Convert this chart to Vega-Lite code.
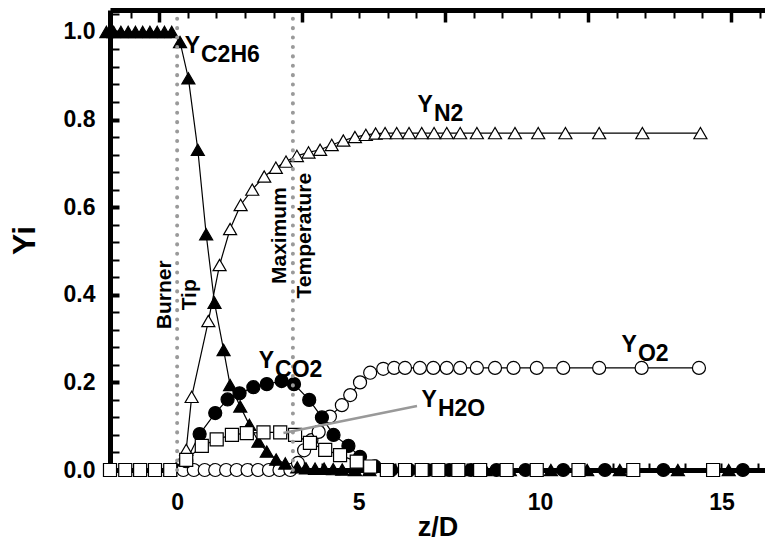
{
  "$schema": "https://vega.github.io/schema/vega-lite/v6.json",
  "autosize": "none",
  "width": 655,
  "height": 460,
  "padding": {"left": 110, "top": 10, "right": 0, "bottom": 71},
  "background": "white",
  "config": {"view": {"stroke": null}, "font": "Liberation Sans"},
  "datasets": {
    "series": [
      {"s": "O2", "x": 0.17, "y": 0}, {"s": "O2", "x": 0.46, "y": 0}, {"s": "O2", "x": 0.76, "y": 0}, {"s": "O2", "x": 1.05, "y": 0}, {"s": "O2", "x": 1.35, "y": 0}, {"s": "O2", "x": 1.64, "y": 0}, {"s": "O2", "x": 1.94, "y": 0}, {"s": "O2", "x": 2.23, "y": 0}, {"s": "O2", "x": 2.53, "y": 0}, {"s": "O2", "x": 2.82, "y": 0}, {"s": "O2", "x": 3.12, "y": 0},
      {"s": "O2", "x": 3.33, "y": 0.016}, {"s": "O2", "x": 3.5, "y": 0.045}, {"s": "O2", "x": 3.7, "y": 0.068}, {"s": "O2", "x": 3.9, "y": 0.087}, {"s": "O2", "x": 4.21, "y": 0.122}, {"s": "O2", "x": 4.54, "y": 0.148}, {"s": "O2", "x": 4.77, "y": 0.171}, {"s": "O2", "x": 5.04, "y": 0.2}, {"s": "O2", "x": 5.32, "y": 0.222}, {"s": "O2", "x": 5.68, "y": 0.231}, {"s": "O2", "x": 5.98, "y": 0.233}, {"s": "O2", "x": 6.28, "y": 0.233}, {"s": "O2", "x": 6.69, "y": 0.233}, {"s": "O2", "x": 7.06, "y": 0.233}, {"s": "O2", "x": 7.43, "y": 0.233}, {"s": "O2", "x": 7.8, "y": 0.233}, {"s": "O2", "x": 8.26, "y": 0.233}, {"s": "O2", "x": 8.76, "y": 0.233}, {"s": "O2", "x": 9.27, "y": 0.233}, {"s": "O2", "x": 9.91, "y": 0.233}, {"s": "O2", "x": 10.64, "y": 0.233}, {"s": "O2", "x": 11.63, "y": 0.233}, {"s": "O2", "x": 12.8, "y": 0.233}, {"s": "O2", "x": 14.38, "y": 0.233},
      {"s": "N2", "x": -0.19, "y": 0}, {"s": "N2", "x": 0.25, "y": 0.046}, {"s": "N2", "x": 0.4, "y": 0.167}, {"s": "N2", "x": 0.86, "y": 0.34}, {"s": "N2", "x": 1.17, "y": 0.468}, {"s": "N2", "x": 1.46, "y": 0.55}, {"s": "N2", "x": 1.75, "y": 0.605}, {"s": "N2", "x": 2.07, "y": 0.64}, {"s": "N2", "x": 2.4, "y": 0.67}, {"s": "N2", "x": 2.72, "y": 0.69}, {"s": "N2", "x": 3.0, "y": 0.704}, {"s": "N2", "x": 3.3, "y": 0.717}, {"s": "N2", "x": 3.62, "y": 0.725}, {"s": "N2", "x": 3.94, "y": 0.731}, {"s": "N2", "x": 4.26, "y": 0.742}, {"s": "N2", "x": 4.58, "y": 0.752}, {"s": "N2", "x": 4.9, "y": 0.76}, {"s": "N2", "x": 5.2, "y": 0.765}, {"s": "N2", "x": 5.47, "y": 0.768}, {"s": "N2", "x": 5.73, "y": 0.769}, {"s": "N2", "x": 6.05, "y": 0.769}, {"s": "N2", "x": 6.39, "y": 0.769}, {"s": "N2", "x": 6.74, "y": 0.769}, {"s": "N2", "x": 7.08, "y": 0.769}, {"s": "N2", "x": 7.43, "y": 0.769}, {"s": "N2", "x": 7.8, "y": 0.769}, {"s": "N2", "x": 8.26, "y": 0.769}, {"s": "N2", "x": 8.76, "y": 0.769}, {"s": "N2", "x": 9.31, "y": 0.769}, {"s": "N2", "x": 9.95, "y": 0.769}, {"s": "N2", "x": 10.7, "y": 0.769}, {"s": "N2", "x": 11.63, "y": 0.769}, {"s": "N2", "x": 12.82, "y": 0.769}, {"s": "N2", "x": 14.42, "y": 0.769},
      {"s": "C2H6", "x": -1.95, "y": 1.0}, {"s": "C2H6", "x": -1.75, "y": 1.0}, {"s": "C2H6", "x": -1.55, "y": 1.0}, {"s": "C2H6", "x": -1.35, "y": 1.0}, {"s": "C2H6", "x": -1.15, "y": 1.0}, {"s": "C2H6", "x": -0.95, "y": 1.0}, {"s": "C2H6", "x": -0.75, "y": 1.0}, {"s": "C2H6", "x": -0.55, "y": 1.0}, {"s": "C2H6", "x": -0.35, "y": 1.0}, {"s": "C2H6", "x": -0.15, "y": 1.0},
      {"s": "C2H6", "x": 0.08, "y": 0.977}, {"s": "C2H6", "x": 0.31, "y": 0.894}, {"s": "C2H6", "x": 0.57, "y": 0.731}, {"s": "C2H6", "x": 0.8, "y": 0.538}, {"s": "C2H6", "x": 1.03, "y": 0.382}, {"s": "C2H6", "x": 1.28, "y": 0.274}, {"s": "C2H6", "x": 1.46, "y": 0.194}, {"s": "C2H6", "x": 1.74, "y": 0.145}, {"s": "C2H6", "x": 1.99, "y": 0.103}, {"s": "C2H6", "x": 2.24, "y": 0.065}, {"s": "C2H6", "x": 2.47, "y": 0.042}, {"s": "C2H6", "x": 2.73, "y": 0.024}, {"s": "C2H6", "x": 2.98, "y": 0.015}, {"s": "C2H6", "x": 3.31, "y": 0.006}, {"s": "C2H6", "x": 3.55, "y": 0.004}, {"s": "C2H6", "x": 3.8, "y": 0.003}, {"s": "C2H6", "x": 4.05, "y": 0.003}, {"s": "C2H6", "x": 4.3, "y": 0.002}, {"s": "C2H6", "x": 4.55, "y": 0.001}, {"s": "C2H6", "x": 4.9, "y": 0}, {"s": "C2H6", "x": 5.3, "y": 0}, {"s": "C2H6", "x": 5.8, "y": 0}, {"s": "C2H6", "x": 6.3, "y": 0}, {"s": "C2H6", "x": 6.8, "y": 0}, {"s": "C2H6", "x": 7.3, "y": 0}, {"s": "C2H6", "x": 7.9, "y": 0}, {"s": "C2H6", "x": 8.5, "y": 0}, {"s": "C2H6", "x": 9.17, "y": 0}, {"s": "C2H6", "x": 10.3, "y": 0}, {"s": "C2H6", "x": 11.3, "y": 0}, {"s": "C2H6", "x": 12.2, "y": 0}, {"s": "C2H6", "x": 13.8, "y": 0}, {"s": "C2H6", "x": 15.2, "y": 0}, {"s": "C2H6", "x": 17.0, "y": 0},
      {"s": "CO2", "x": -0.19, "y": 0}, {"s": "CO2", "x": 0.25, "y": 0.02}, {"s": "CO2", "x": 0.62, "y": 0.082}, {"s": "CO2", "x": 1.05, "y": 0.13}, {"s": "CO2", "x": 1.39, "y": 0.161}, {"s": "CO2", "x": 1.72, "y": 0.175}, {"s": "CO2", "x": 2.1, "y": 0.189}, {"s": "CO2", "x": 2.47, "y": 0.196}, {"s": "CO2", "x": 2.88, "y": 0.203}, {"s": "CO2", "x": 3.22, "y": 0.196}, {"s": "CO2", "x": 3.64, "y": 0.16}, {"s": "CO2", "x": 3.99, "y": 0.12}, {"s": "CO2", "x": 4.31, "y": 0.08}, {"s": "CO2", "x": 4.72, "y": 0.055}, {"s": "CO2", "x": 5.04, "y": 0.03}, {"s": "CO2", "x": 5.45, "y": 0.008}, {"s": "CO2", "x": 5.9, "y": 0}, {"s": "CO2", "x": 6.4, "y": 0}, {"s": "CO2", "x": 6.9, "y": 0}, {"s": "CO2", "x": 7.5, "y": 0}, {"s": "CO2", "x": 8.1, "y": 0}, {"s": "CO2", "x": 8.8, "y": 0}, {"s": "CO2", "x": 9.6, "y": 0}, {"s": "CO2", "x": 10.64, "y": 0}, {"s": "CO2", "x": 11.79, "y": 0}, {"s": "CO2", "x": 13.4, "y": 0}, {"s": "CO2", "x": 15.59, "y": 0}, {"s": "CO2", "x": 17.5, "y": 0},
      {"s": "H2O", "x": -1.85, "y": 0}, {"s": "H2O", "x": -1.43, "y": 0}, {"s": "H2O", "x": -1.02, "y": 0}, {"s": "H2O", "x": -0.61, "y": 0}, {"s": "H2O", "x": -0.19, "y": 0}, {"s": "H2O", "x": 0.25, "y": 0.023}, {"s": "H2O", "x": 0.68, "y": 0.055}, {"s": "H2O", "x": 1.09, "y": 0.07}, {"s": "H2O", "x": 1.51, "y": 0.08}, {"s": "H2O", "x": 1.92, "y": 0.084}, {"s": "H2O", "x": 2.38, "y": 0.086}, {"s": "H2O", "x": 2.84, "y": 0.086}, {"s": "H2O", "x": 3.25, "y": 0.08}, {"s": "H2O", "x": 3.66, "y": 0.062}, {"s": "H2O", "x": 4.08, "y": 0.046}, {"s": "H2O", "x": 4.49, "y": 0.034}, {"s": "H2O", "x": 4.95, "y": 0.019}, {"s": "H2O", "x": 5.32, "y": 0.008}, {"s": "H2O", "x": 5.78, "y": 0}, {"s": "H2O", "x": 6.28, "y": 0}, {"s": "H2O", "x": 6.74, "y": 0}, {"s": "H2O", "x": 7.2, "y": 0}, {"s": "H2O", "x": 7.75, "y": 0}, {"s": "H2O", "x": 8.35, "y": 0}, {"s": "H2O", "x": 9.08, "y": 0}, {"s": "H2O", "x": 9.91, "y": 0}, {"s": "H2O", "x": 11.06, "y": 0}, {"s": "H2O", "x": 12.57, "y": 0}, {"s": "H2O", "x": 14.77, "y": 0}
    ],
    "labels": [
      {"x": 0.63, "y": 0.952, "main": "Y", "sub": "C2H6"},
      {"x": 7.05, "y": 0.817, "main": "Y", "sub": "N2"},
      {"x": 2.67, "y": 0.233, "main": "Y", "sub": "CO2"},
      {"x": 12.67, "y": 0.269, "main": "Y", "sub": "O2"},
      {"x": 7.16, "y": 0.144, "main": "Y", "sub": "H2O"}
    ],
    "vlines": [
      {"x": 0, "y": 0, "y2": 1.05},
      {"x": 3.19, "y": 0, "y2": 1.05}
    ],
    "marks": [
      {"x": -0.34, "y": 0.4, "t": "Burner\nTip"},
      {"x": 2.84, "y": 0.535, "t": "Maximum\nTemperature"}
    ],
    "connector": [{"x": 2.93, "y": 0.0845, "x2": 6.61, "y2": 0.146}]
  },
  "encoding": {
    "y": {"field": "y", "type": "quantitative", "scale": {"domain": [0, 1.05], "nice": false, "zero": false},
      "axis": {"orient": "left", "values": [0,0.04,0.08,0.12,0.16,0.2,0.24,0.28,0.32,0.36,0.4,0.44,0.48,0.52,0.56,0.6,0.64,0.68,0.72,0.76,0.8,0.84,0.88,0.92,0.96,1.0,1.04],
        "labelExpr": "round(datum.value*100) % 20 === 0 ? format(datum.value, '.1f') : ''", "title": "Yi", "grid": false,
        "domainColor": "black", "domainWidth": 5, "tickColor": "black", "tickSize": -9,
        "tickWidth": {"condition": {"test": "round(datum.value*100) % 20 === 0", "value": 4}, "value": 2},
        "labelFont": "Liberation Sans", "labelFontSize": 23, "labelFontWeight": "bold", "labelColor": "black", "labelPadding": 24, "labelOverlap": false, "labelFlush": false,
        "titleFont": "Liberation Sans", "titleFontSize": 32, "titleFontWeight": "bold", "titleColor": "black", "titlePadding": 22}}
  },
  "layer": [
    {
      "data": {"name": "series"},
      "mark": {"type": "line", "color": "black", "strokeWidth": 1.2},
      "encoding": {
        "x": {"field": "x", "type": "quantitative", "scale": {"domain": [-1.85, 16.2], "nice": false, "zero": false},
          "axis": {"orient": "bottom", "values": [-1,0,1,2,3,4,5,6,7,8,9,10,11,12,13,14,15,16],
            "labelExpr": "datum.value % 5 === 0 ? datum.label : ''", "title": "z/D", "grid": false,
            "domainColor": "black", "domainWidth": 5, "tickColor": "black", "tickWidth": 2, "tickSize": -7,
            "labelFont": "Liberation Sans", "labelFontSize": 23, "labelFontWeight": "bold", "labelColor": "black", "labelPadding": 28, "labelFlush": false, "labelOverlap": false,
            "titleFont": "Liberation Sans", "titleFontSize": 27, "titleFontWeight": "bold", "titleColor": "black", "titlePadding": 0}},
        "detail": {"field": "s"}
      }
    },
    {
      "data": {"name": "series"},
      "mark": {"type": "point", "filled": true, "stroke": "black", "strokeWidth": 1.2, "opacity": 1},
      "encoding": {
        "x": {"field": "x", "type": "quantitative", "scale": {"domain": [-1.85, 16.2], "nice": false, "zero": false},
          "axis": {"orient": "top", "values": [-1.284,-0.496,0.292,1.08,1.868,2.656,3.444,4.232,5.02,5.808,6.596,7.384,8.172,8.96,9.748,10.536,11.324,12.112,12.9,13.688,14.476,15.264,16.052],
            "labels": false, "title": null, "grid": false, "domainColor": "black", "domainWidth": 5, "tickColor": "black",
            "tickWidth": {"condition": {"test": "abs((datum.value+0.496)/3.94 - round((datum.value+0.496)/3.94)) < 0.02", "value": 3.5}, "value": 2},
            "tickSize": {"condition": {"test": "abs((datum.value+0.496)/3.94 - round((datum.value+0.496)/3.94)) < 0.02", "value": -12}, "value": -8}}},
        "shape": {"field": "s", "type": "nominal", "legend": null,
          "scale": {"domain": ["C2H6", "N2", "CO2", "O2", "H2O"], "range": ["triangle-up", "triangle-up", "circle", "circle", "square"]}},
        "fill": {"field": "s", "type": "nominal", "legend": null,
          "scale": {"domain": ["C2H6", "N2", "CO2", "O2", "H2O"], "range": ["black", "white", "black", "white", "white"]}},
        "size": {"field": "s", "type": "nominal", "legend": null,
          "scale": {"domain": ["C2H6", "N2", "CO2", "O2", "H2O"], "range": [170, 170, 135, 115, 155]}}
      }
    },
    {
      "data": {"name": "connector"},
      "mark": {"type": "rule", "color": "#999999", "strokeWidth": 2.5},
      "encoding": {
        "x": {"field": "x", "type": "quantitative", "scale": {"domain": [-1.85, 16.2], "nice": false, "zero": false}, "axis": null},
        "x2": {"field": "x2"},
        "y2": {"field": "y2"}
      }
    },
    {
      "data": {"name": "vlines"},
      "mark": {"type": "rule", "color": "#9a9a9a", "strokeWidth": 4, "strokeCap": "round", "strokeDash": [0.1, 9.3]},
      "encoding": {
        "x": {"field": "x", "type": "quantitative", "scale": {"domain": [-1.85, 16.2], "nice": false, "zero": false}, "axis": null},
        "y2": {"field": "y2"}
      }
    },
    {
      "data": {"name": "marks"},
      "mark": {"type": "text", "angle": 270, "align": "center", "baseline": "middle", "font": "Liberation Sans", "fontSize": 21, "fontWeight": "bold", "lineHeight": 25, "lineBreak": "\n", "color": "black"},
      "encoding": {
        "x": {"field": "x", "type": "quantitative", "scale": {"domain": [-1.85, 16.2], "nice": false, "zero": false}, "axis": null},
        "text": {"field": "t"}
      }
    },
    {
      "data": {"name": "labels"},
      "mark": {"type": "text", "align": "right", "baseline": "alphabetic", "font": "Liberation Sans", "fontSize": 23, "fontWeight": "bold", "color": "black"},
      "encoding": {
        "x": {"field": "x", "type": "quantitative", "scale": {"domain": [-1.85, 16.2], "nice": false, "zero": false}, "axis": null},
        "text": {"field": "main"}
      }
    },
    {
      "data": {"name": "labels"},
      "mark": {"type": "text", "align": "left", "baseline": "alphabetic", "dx": 1, "dy": 9, "font": "Liberation Sans", "fontSize": 23, "fontWeight": "bold", "color": "black"},
      "encoding": {
        "x": {"field": "x", "type": "quantitative", "scale": {"domain": [-1.85, 16.2], "nice": false, "zero": false}, "axis": null},
        "text": {"field": "sub"}
      }
    }
  ],
  "resolve": {"axis": {"x": "independent"}}
}
